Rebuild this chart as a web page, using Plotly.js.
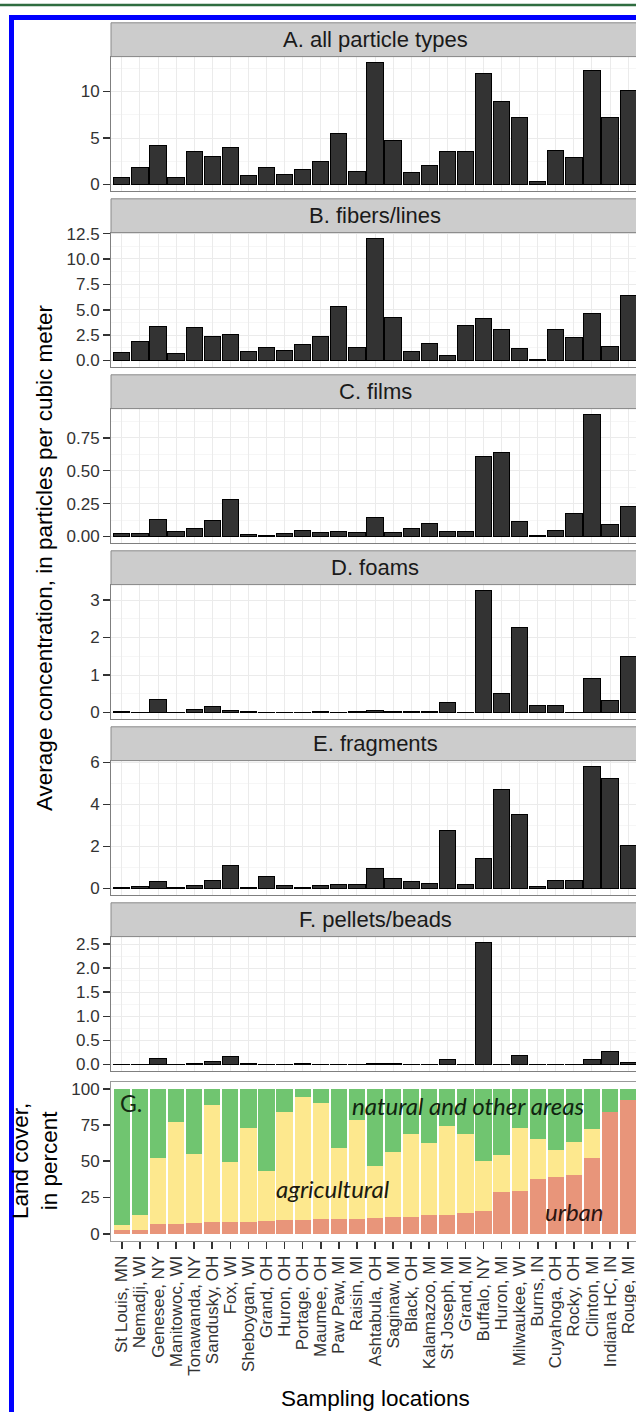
<!DOCTYPE html>
<html>
<head>
<meta charset="utf-8">
<script src="https://cdn.plot.ly/plotly-3.0.1.min.js"></script>
<style>
html,body{margin:0;padding:0;overflow:hidden;background:#ffffff;}
#chart{width:660px;height:1412px;}
</style>
</head>
<body>
<div id="chart"></div>
<script>
// ---------------- data ----------------
const locations = ["St Louis, MN","Nemadji, WI","Genesee, NY","Manitowoc, WI","Tonawanda, NY","Sandusky, OH","Fox, WI","Sheboygan, WI","Grand, OH","Huron, OH","Portage, OH","Maumee, OH","Paw Paw, MI","Raisin, MI","Ashtabula, OH","Saginaw, MI","Black, OH","Kalamazoo, MI","St Joseph, MI","Grand, MI","Buffalo, NY","Huron, MI","Milwaukee, WI","Burns, IN","Cuyahoga, OH","Rocky, OH","Clinton, MI","Indiana HC, IN","Rouge, MI"];

const allTypes  = [0.75, 1.8, 4.2, 0.75, 3.5, 3.06, 4.0, 0.93, 1.78, 1.07, 1.64, 2.46, 5.48, 1.42, 13.1, 4.77, 1.25, 2.0, 3.52, 3.6, 11.96, 8.93, 7.19, 0.36, 3.63, 2.88, 12.3, 7.26, 10.1];
const fibers    = [0.75, 1.83, 3.39, 0.69, 3.26, 2.38, 2.55, 0.91, 1.24, 0.95, 1.57, 2.32, 5.32, 1.24, 12.0, 4.28, 0.85, 1.66, 0.46, 3.43, 4.18, 3.1, 1.14, 0.1, 3.1, 2.28, 4.63, 1.37, 6.43];
const films     = [0.023, 0.02, 0.13, 0.04, 0.06, 0.12, 0.28, 0.015, 0.008, 0.025, 0.046, 0.033, 0.04, 0.028, 0.142, 0.03, 0.064, 0.1, 0.038, 0.04, 0.61, 0.64, 0.114, 0.005, 0.046, 0.178, 0.925, 0.094, 0.229];
const foams     = [0.03, 0.01, 0.345, 0.01, 0.07, 0.15, 0.05, 0.03, 0.005, 0.005, 0.01, 0.04, 0.005, 0.02, 0.05, 0.03, 0.03, 0.03, 0.27, 0.01, 3.25, 0.5, 2.27, 0.2, 0.19, 0.01, 0.91, 0.32, 1.5];
const fragments = [0.05, 0.1, 0.32, 0.06, 0.16, 0.4, 1.11, 0.06, 0.59, 0.13, 0.06, 0.14, 0.19, 0.19, 0.97, 0.49, 0.33, 0.24, 2.76, 0.21, 1.44, 4.71, 3.51, 0.11, 0.37, 0.37, 5.8, 5.22, 2.06];
const pellets   = [0.01, 0.01, 0.13, 0.005, 0.03, 0.07, 0.17, 0.03, 0.005, 0.01, 0.02, 0.01, 0.01, 0.01, 0.02, 0.02, 0.01, 0.005, 0.1, 0.005, 2.53, 0.01, 0.18, 0.005, 0.005, 0.01, 0.1, 0.27, 0.05];

// land cover, percent
const urban        = [2.7, 2.7, 6.6, 6.9, 7.1, 8.0, 8.0, 8.0, 8.6, 9.2, 9.4, 10.2, 10.4, 10.5, 10.8, 11.6, 11.8, 12.8, 13.1, 14.3, 15.8, 28.7, 29.8, 37.9, 39.3, 40.2, 52.5, 84.1, 92.2];
const agricultural = [3.0, 10.3, 45.4, 70.0, 48.2, 81.0, 41.8, 64.7, 34.9, 74.9, 84.6, 79.7, 48.7, 68.1, 36.1, 45.0, 56.9, 49.5, 61.4, 54.2, 34.3, 25.3, 43.1, 27.4, 18.7, 22.8, 20.0, 0, 0];
const natural      = [94.3, 87.0, 48.0, 23.1, 44.7, 11.0, 50.2, 27.3, 56.5, 15.9, 6.0, 10.1, 40.9, 21.4, 53.1, 43.4, 31.3, 37.7, 25.5, 31.5, 49.9, 46.0, 27.1, 34.7, 42.0, 37.0, 27.5, 15.9, 7.8];

const panelTitles = ["A. all particle types", "B. fibers/lines", "C. films", "D. foams", "E. fragments", "F. pellets/beads"];
const panelSeries = [allTypes, fibers, films, foams, fragments, pellets];
const panelDticks = [5, 2.5, 0.25, 1, 2, 0.5];
const panelFormats = ["d", ".1f", ".2f", "d", "d", ".1f"];
const landTicks = [0, 25, 50, 75, 100];

// ---------------- layout helpers ----------------
const W = 660, H = 1412;
const fx = p => p / W;
const fy = p => 1 - p / H;
const plotL = 111, plotR = 639;
const FONT = "Liberation Sans, Arial, Helvetica, sans-serif";
const TICKFONT = {family: FONT, size: 17, color: "#333333"};

const traces = [];
const layout = {
  width: W, height: H,
  margin: {l: 0, r: 0, t: 0, b: 0},
  paper_bgcolor: "#ffffff",
  plot_bgcolor: "#ffffff",
  showlegend: false,
  barmode: "stack",
  font: {family: FONT, color: "#000"},
  shapes: [],
  annotations: []
};

const nCat = locations.length;
const xr = [-0.6, nCat - 1 + 0.6];

panelSeries.forEach((arr, k) => {
  const idx = k + 1;
  const stripTop = 22.8 + 176 * k;
  const stripBot = stripTop + 33.8;
  const plotBot = stripBot + 134;
  const mx = Math.max(...arr);
  traces.push({
    type: "bar", x: locations, y: arr,
    xaxis: "x" + idx, yaxis: "y" + idx,
    width: 0.9,
    marker: {color: "#333333", line: {color: "#000000", width: 1}},
    hoverinfo: "skip"
  });
  layout["xaxis" + idx] = {
    domain: [fx(plotL), fx(plotR)], anchor: "y" + idx,
    type: "category", range: xr,
    tickmode: "array", tickvals: locations,
    showticklabels: false, ticks: "",
    showgrid: true, gridcolor: "#EBEBEB", gridwidth: 1,
    showline: true, mirror: true, linecolor: "#7F7F7F", linewidth: 1,
    zeroline: false, fixedrange: true
  };
  layout["yaxis" + idx] = {
    domain: [fy(plotBot), fy(stripBot)], anchor: "x" + idx,
    range: [-0.05 * mx, 1.05 * mx],
    dtick: panelDticks[k], tick0: 0, tickformat: panelFormats[k],
    ticks: "outside", ticklen: 7, tickwidth: 1.6, tickcolor: "#333333",
    tickfont: TICKFONT,
    showgrid: true, gridcolor: "#EBEBEB", gridwidth: 1,
    minor: {dtick: panelDticks[k] / 2, tick0: 0, showgrid: true, gridcolor: "#F6F6F6", gridwidth: 1},
    showline: true, mirror: true, linecolor: "#7F7F7F", linewidth: 1,
    zeroline: false, fixedrange: true
  };
  layout.shapes.push({
    type: "rect", xref: "paper", yref: "paper",
    x0: fx(plotL), x1: fx(plotR + 40), y0: fy(stripBot), y1: fy(stripTop),
    fillcolor: "#CCCCCC", line: {color: "#8A8A8A", width: 1}, layer: "above"
  });
  layout.annotations.push({
    xref: "paper", yref: "paper", x: fx((plotL + plotR) / 2), y: fy((stripTop + stripBot) / 2),
    xanchor: "center", yanchor: "middle", showarrow: false,
    text: panelTitles[k], font: {family: FONT, size: 22, color: "#1A1A1A"}
  });
});

// land cover panel G
const gTop = 1081.5, gBot = 1241;
[[urban, "#E8957A"], [agricultural, "#FDE88E"], [natural, "#70C570"]].forEach(([arr, col]) => {
  traces.push({
    type: "bar", x: locations, y: arr, xaxis: "x7", yaxis: "y7",
    width: 0.9, marker: {color: col, line: {width: 0}}, hoverinfo: "skip"
  });
});
layout.xaxis7 = {
  domain: [fx(plotL), fx(plotR)], anchor: "y7",
  type: "category", range: xr,
  tickmode: "array", tickvals: locations, ticktext: locations,
  ticks: "outside", ticklen: 7, tickwidth: 1.6, tickcolor: "#333333",
  tickangle: -90, tickfont: TICKFONT,
  showgrid: false, showline: true, mirror: true, linecolor: "#9A9A9A", linewidth: 1,
  zeroline: false, fixedrange: true
};
layout.yaxis7 = {
  domain: [fy(gBot), fy(gTop)], anchor: "x7",
  range: [-5, 105], tickvals: landTicks,
  ticks: "outside", ticklen: 7, tickwidth: 1.6, tickcolor: "#333333",
  tickfont: TICKFONT,
  showgrid: false, showline: true, mirror: true, linecolor: "#9A9A9A", linewidth: 1,
  zeroline: false, fixedrange: true
};

// labels inside panel G
const ITAL = "Lato, Open Sans, sans-serif";
layout.annotations.push(
  {xref: "paper", yref: "paper", x: fx(131), y: fy(1103), showarrow: false, xanchor: "center", yanchor: "middle",
   text: "G.", font: {family: ITAL, size: 23, color: "#132a13"}},
  {xref: "paper", yref: "paper", x: fx(468), y: fy(1105), showarrow: false, xanchor: "center", yanchor: "middle",
   text: "<i>natural and other areas</i>", font: {family: ITAL, size: 24, color: "#10240f"}},
  {xref: "paper", yref: "paper", x: fx(333), y: fy(1188), showarrow: false, xanchor: "center", yanchor: "middle",
   text: "<i>agricultural</i>", font: {family: ITAL, size: 24, color: "#1a1a10"}},
  {xref: "paper", yref: "paper", x: fx(574), y: fy(1211), showarrow: false, xanchor: "center", yanchor: "middle",
   text: "<i>urban</i>", font: {family: ITAL, size: 24, color: "#2a1410"}}
);

// axis titles
layout.annotations.push(
  {xref: "paper", yref: "paper", x: fx(44), y: fy(558), showarrow: false, xanchor: "center", yanchor: "middle",
   textangle: -90, text: "Average concentration, in particles per cubic meter",
   font: {family: FONT, size: 22.5, color: "#000"}},
  {xref: "paper", yref: "paper", x: fx(35), y: fy(1161), showarrow: false, xanchor: "center", yanchor: "middle",
   textangle: -90, text: "Land cover,<br>in percent",
   font: {family: FONT, size: 22.5, color: "#000"}},
  {xref: "paper", yref: "paper", x: fx(375), y: fy(1398), showarrow: false, xanchor: "center", yanchor: "middle",
   text: "Sampling locations", font: {family: FONT, size: 22.5, color: "#000"}}
);

// page decorations: green rule and blue frame
layout.shapes.push(
  {type: "line", xref: "paper", yref: "paper", x0: 0, x1: 1, y0: fy(5), y1: fy(5),
   line: {color: "#2F6D40", width: 2.5}, layer: "above"},
  {type: "rect", xref: "paper", yref: "paper", x0: fx(11.5), x1: fx(760), y0: fy(1500), y1: fy(17.5),
   line: {color: "#0000FF", width: 5}, fillcolor: "rgba(0,0,0,0)", layer: "above"}
);

Plotly.newPlot("chart", traces, layout, {displayModeBar: false, staticPlot: true});
</script>
</body>
</html>
